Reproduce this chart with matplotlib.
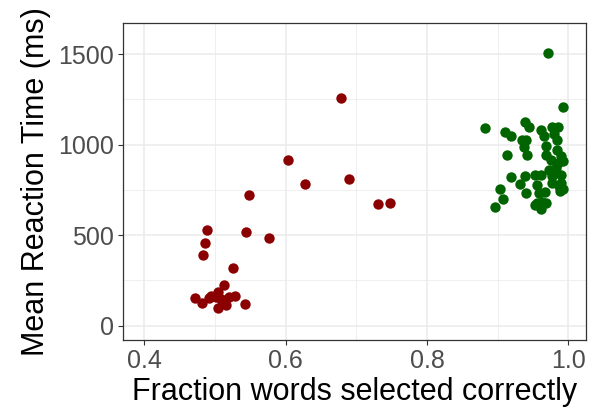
import matplotlib
matplotlib.use("Agg")
import matplotlib.pyplot as plt
from matplotlib.ticker import MultipleLocator

plt.rcParams['font.family'] = ['Liberation Sans', 'DejaVu Sans']

# Red group (low accuracy)
red_x = [0.679, 0.604, 0.628, 0.689, 0.730, 0.748, 0.548, 0.489, 0.544, 0.577,
         0.486, 0.483, 0.526, 0.513, 0.472, 0.482, 0.504, 0.501, 0.492, 0.508,
         0.520, 0.528, 0.516, 0.504, 0.542, 0.495, 0.510]
red_y = [1257, 918, 784, 811, 670, 676, 722, 531, 515, 485,
         456, 390, 319, 225, 152, 128, 185, 158, 152, 148,
         158, 163, 112, 97, 119, 165, 140]

# Green group (high accuracy)
green_x = [0.971, 0.993, 0.882, 0.938, 0.944, 0.911, 0.919, 0.962, 0.965, 0.977,
           0.985, 0.980, 0.984, 0.934, 0.940, 0.937, 0.969, 0.913, 0.941, 0.968,
           0.984, 0.989, 0.993, 0.975, 0.985, 0.973, 0.982, 0.919, 0.939, 0.953,
           0.962, 0.977, 0.989, 0.931, 0.956, 0.977, 0.989, 0.992, 0.903, 0.940,
           0.959, 0.967, 0.988, 0.908, 0.956, 0.963, 0.968, 0.896, 0.953, 0.962,
           0.975, 0.987]
green_y = [1509, 1209, 1090, 1126, 1097, 1073, 1049, 1082, 1049, 1097,
           1097, 1060, 1027, 1024, 1027, 987, 991, 941, 941, 945,
           969, 936, 908, 918, 899, 863, 872, 823, 826, 830,
           830, 826, 830, 782, 780, 786, 786, 757, 757, 735,
           735, 738, 743, 702, 680, 683, 676, 656, 665, 643,
           853, 771]

x_ticks = [0.4, 0.6, 0.8, 1.0]
x_labels = ['0.4', '0.6', '0.8', '1.0']
y_ticks = [0, 500, 1000, 1500]
y_labels = ['0', '500', '1000', '1500']

fig = plt.figure(figsize=(5.97, 4.16), dpi=100)
ax = fig.add_axes([0.2055, 0.1827, 0.9816 - 0.2055, 0.944 - 0.1827])

ax.scatter(red_x, red_y, s=56, color='#8B0000', linewidths=0, zorder=3)
ax.scatter(green_x, green_y, s=56, color='#006400', linewidths=0, zorder=3)

ax.set_xlim(0.3694, 1.025)
ax.set_ylim(-79, 1671)
ax.set_xticks(x_ticks)
ax.set_xticklabels(x_labels)
ax.set_yticks(y_ticks)
ax.set_yticklabels(y_labels)
ax.xaxis.set_minor_locator(MultipleLocator(0.1))
ax.yaxis.set_minor_locator(MultipleLocator(250))

ax.set_axisbelow(True)
ax.grid(which='major', color='#EBEBEB', linewidth=1.1)
ax.grid(which='minor', color='#EBEBEB', linewidth=0.55)
ax.tick_params(which='minor', length=0)
ax.tick_params(which='major', length=3.6, width=0.8, color='#333333',
               labelsize=18, labelcolor='#4D4D4D', pad=3)
for sp in ax.spines.values():
    sp.set_color('#333333')
    sp.set_linewidth(0.9)

ax.set_xlabel('Fraction words selected correctly', fontsize=22, color='black', labelpad=3)
ax.set_ylabel('Mean Reaction Time (ms)', fontsize=22, color='black', labelpad=5)

fig.savefig('out.png', dpi=100)
